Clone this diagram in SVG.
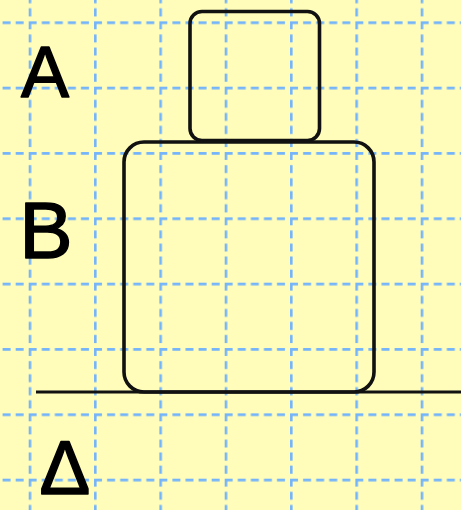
<svg xmlns="http://www.w3.org/2000/svg" width="461" height="510" viewBox="0 0 461 510">
  <style>
    .grid { stroke: #74b4fb; stroke-width: 2.6; stroke-dasharray: 8 5.07; fill: none; }
    .box { fill: none; stroke: #111; stroke-width: 3.6; }
    .ground { stroke: #111; stroke-width: 3; fill: none; }
    .label { font-family: "Liberation Sans", Arial, sans-serif; fill: #000; stroke: #000; stroke-width: 1.5; stroke-linejoin: round; text-anchor: middle; }
  </style>
  <defs>
    <pattern id="gridPat" patternUnits="userSpaceOnUse" x="28.7" y="21.37" width="65.333" height="65.333">
      <path class="grid" d="M0,1.3 H65.333"/>
      <path class="grid" d="M1.3,0 V65.333"/>
    </pattern>
  </defs>
  <rect id="background" x="0" y="0" width="461" height="510" fill="#fffdb9"/>
  <rect id="grid" x="0" y="0" width="461" height="510" fill="url(#gridPat)"/>

  <g id="connectors">
    <line id="ground-line" class="ground" x1="36" y1="392" x2="461" y2="392"/>
  </g>

  <g id="node-A">
    <rect class="box" x="190" y="11.5" width="129.5" height="129" rx="12" ry="12"/>
  </g>
  <g id="node-B">
    <rect class="box" x="124" y="142" width="250" height="250" rx="20" ry="20"/>
  </g>

  <g id="label-A">
    <text class="label" x="45" y="97" font-size="72">A</text>
  </g>
  <g id="label-B">
    <text class="label" x="46" y="258" font-size="80">B</text>
  </g>
  <g id="label-Delta">
    <text class="label" x="65" y="494" font-size="76">Δ</text>
  </g>
</svg>
